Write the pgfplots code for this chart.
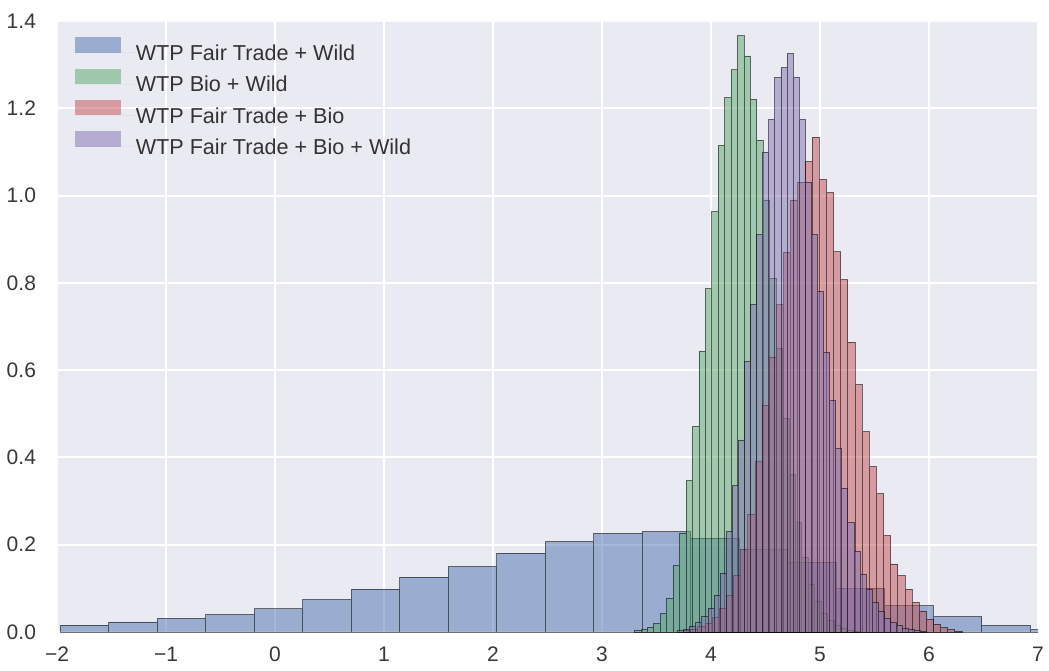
\documentclass[border=0pt]{standalone}
\usepackage{pgfplots}
\pgfplotsset{compat=1.18}
\usepackage{fontspec}
\setmainfont{Liberation Sans}

\definecolor{sbbg}{HTML}{EAEAF2}
\definecolor{sbblue}{HTML}{4C72B0}
\definecolor{sbgreen}{HTML}{55A868}
\definecolor{sbred}{HTML}{C44E52}
\definecolor{sbpurple}{HTML}{8172B2}

% histogram bins: left edge, density (last row closes the last bar)
\pgfplotstableread{
x y
-1.970 0.016
-1.525 0.023
-1.080 0.031
-0.635 0.040
-0.190 0.053
0.255 0.074
0.700 0.098
1.145 0.126
1.590 0.150
2.035 0.181
2.480 0.207
2.925 0.226
3.370 0.230
3.815 0.215
4.260 0.190
4.705 0.160
5.150 0.100
5.595 0.060
6.040 0.035
6.485 0.015
6.930 0.005
7.375 0
}\ftwild

\pgfplotstableread{
x y
3.299 0.003
3.358 0.006
3.417 0.011
3.476 0.019
3.535 0.042
3.594 0.077
3.653 0.152
3.712 0.227
3.771 0.347
3.830 0.471
3.889 0.644
3.948 0.787
4.007 0.963
4.066 1.115
4.125 1.224
4.184 1.288
4.243 1.366
4.302 1.320
4.361 1.221
4.420 1.127
4.479 0.990
4.538 0.810
4.597 0.650
4.656 0.490
4.715 0.360
4.774 0.250
4.833 0.170
4.892 0.110
4.951 0.070
5.010 0.043
5.069 0.026
5.128 0.015
5.187 0.008
5.246 0.004
5.305 0.002
5.364 0
}\biowild

\pgfplotstableread{
x y
3.7485 0.003
3.8140 0.006
3.8795 0.012
3.9450 0.020
4.0105 0.033
4.0760 0.055
4.1415 0.085
4.2070 0.130
4.2725 0.190
4.3380 0.270
4.4035 0.390
4.4690 0.520
4.5345 0.630
4.6000 0.750
4.6655 0.870
4.7310 0.990
4.7965 1.030
4.8620 1.078
4.9275 1.134
4.9930 1.037
5.0585 1.007
5.1240 0.871
5.1895 0.807
5.2550 0.664
5.3205 0.567
5.3860 0.459
5.4515 0.379
5.5170 0.317
5.5825 0.221
5.6480 0.156
5.7135 0.129
5.7790 0.098
5.8445 0.068
5.9100 0.048
5.9755 0.029
6.0410 0.018
6.1065 0.010
6.1720 0.005
6.2375 0.002
6.3030 0
}\ftbio

\pgfplotstableread{
x y
3.6928 0.003
3.7486 0.007
3.8044 0.013
3.8602 0.022
3.9160 0.035
3.9718 0.055
4.0276 0.085
4.0834 0.135
4.1392 0.230
4.1950 0.335
4.2508 0.440
4.3066 0.620
4.3624 0.750
4.4182 0.910
4.4740 1.100
4.5298 1.174
4.5856 1.270
4.6414 1.293
4.6972 1.325
4.7530 1.270
4.8088 1.174
4.8646 1.030
4.9204 0.910
4.9762 0.780
5.0320 0.640
5.0878 0.530
5.1436 0.420
5.1994 0.330
5.2552 0.250
5.3110 0.185
5.3668 0.133
5.4226 0.097
5.4784 0.068
5.5342 0.047
5.5900 0.032
5.6458 0.021
5.7016 0.014
5.7574 0.009
5.8132 0.005
5.8690 0.003
5.9248 0.001
5.9806 0
}\ftbiowild

\begin{document}
\begin{tikzpicture}
\begin{axis}[
    name=ax,
    scale only axis,
    width=490.5pt,
    height=305.5pt,
    xmin=-2, xmax=7,
    ymin=0, ymax=1.4,
    xtick={-2,-1,0,1,2,3,4,5,6,7},
    xticklabels={−2,−1,0,1,2,3,4,5,6,7},
    ytick={0,0.2,0.4,0.6,0.8,1.0,1.2,1.4},
    yticklabel style={
        /pgf/number format/fixed,
        /pgf/number format/fixed zerofill,
        /pgf/number format/precision=1,
        xshift=-7pt},
    /pgf/number format/assume math mode=true,
    ticklabel style={font=\fontsize{10.5}{12}\selectfont, text=black!78},
    xticklabel style={yshift=-4pt},
    major tick length=0pt,
    axis line style={draw=none},
    axis background/.style={fill=sbbg},
    grid=major,
    major grid style={white, line width=1pt},
    area legend,
    legend image code/.code={
        \fill[#1, draw=none] (0pt,0pt) rectangle (22.8pt,7.7pt);
        \path[draw=none] (0pt,0pt) -- (30.2pt,0pt);
    },
    legend style={
        at={(0,1)}, anchor=north west,
        xshift=9pt, yshift=-8pt,
        draw=none, fill=none,
        inner sep=0pt,
        row sep=4.1pt,
        font=\fontsize{10.8}{12}\selectfont,
        text=black!80,
        nodes={inner sep=0pt, text height=7.7pt, text depth=0pt},
    },
    legend cell align=left,
    hist/.style={ybar interval, fill opacity=0.5, draw=black, draw opacity=0.55, line width=0.4pt},
]
\addplot[hist, fill=sbblue] table[x=x, y=y] {\ftwild};
\addplot[hist, fill=sbgreen] table[x=x, y=y] {\biowild};
\addplot[hist, fill=sbred] table[x=x, y=y] {\ftbio};
\addplot[hist, fill=sbpurple] table[x=x, y=y] {\ftbiowild};
\legend{WTP Fair Trade + Wild, WTP Bio + Wild, WTP Fair Trade + Bio, WTP Fair Trade + Bio + Wild}
\end{axis}
\pgfresetboundingbox
\path ([shift={(-28.5pt,-19pt)}]ax.south west) rectangle ([shift={(5.5pt,10.5pt)}]ax.north east);
\end{tikzpicture}
\end{document}
